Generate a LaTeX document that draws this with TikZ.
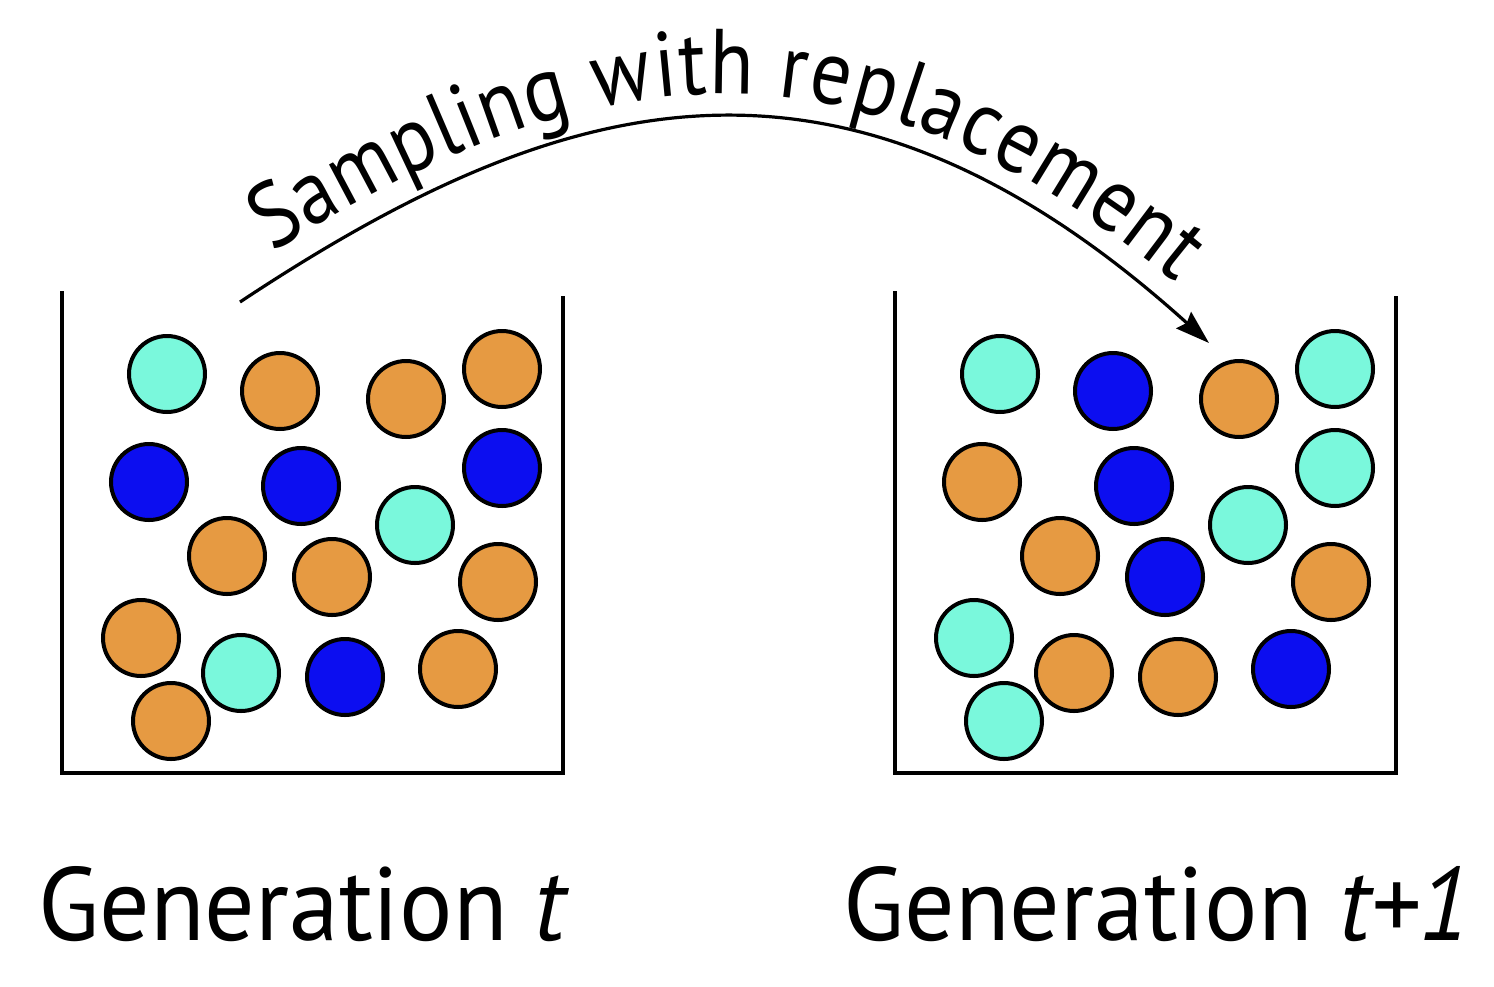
\documentclass[tikz,border=0pt]{standalone}
\usepackage{fontspec}
\setmainfont{PT Sans}
\newfontfamily\arcfont[FakeStretch=0.88]{PT Sans}
\newfontfamily\genfont[FakeStretch=0.96]{PT Sans}
\usetikzlibrary{decorations.text,arrows.meta}
\definecolor{tealc}{RGB}{122,248,220}
\definecolor{orangec}{RGB}{230,154,66}
\definecolor{bluec}{RGB}{12,14,240}
\tikzset{
  ball/.style={circle, draw=black, line width=2pt, minimum size=38pt, inner sep=0pt},
  boxline/.style={line width=1.75pt},
  sample/.style={line width=1.6pt, -{Stealth[length=17pt,width=11pt,inset=2pt]}},
  genlabel/.style={anchor=base west, inner sep=0pt, font=\genfont\fontsize{52}{52}\selectfont}
}
\begin{document}
\begin{tikzpicture}[x=0.5pt,y=-0.5pt]
\useasboundingbox (0,0) rectangle (1494,986);
% containers
\draw[boxline] (62,291) -- (62,773) -- (563,773) -- (563,296);
\draw[boxline] (895,291) -- (895,773) -- (1396,773) -- (1396,296);
% balls generation t
\foreach \i/\x/\y/\c in {1/167/374/tealc, 2/280/391/orangec, 3/406/399/orangec, 4/502/369/orangec,
  5/149/482/bluec, 6/301/486/bluec, 7/502/468/bluec, 8/415/525/tealc,
  9/227/556/orangec, 10/332/577/orangec, 11/498/582/orangec, 12/141/638/orangec,
  13/241/673/tealc, 14/345/677/bluec, 15/458/669/orangec, 16/171/721/orangec}
  \node[ball, fill=\c] (l\i) at (\x,\y) {};
% balls generation t+1
\foreach \i/\x/\y/\c in {1/167/374/tealc, 2/280/391/bluec, 3/406/399/orangec, 4/502/369/tealc,
  5/149/482/orangec, 6/301/486/bluec, 7/502/468/tealc, 8/415/525/tealc,
  9/227/556/orangec, 10/332/577/bluec, 11/498/582/orangec, 12/141/638/tealc,
  13/241/673/orangec, 14/345/677/orangec, 15/458/669/bluec, 16/171/721/tealc}
  \node[ball, fill=\c] (r\i) at (\x+833,\y) {};
% arc
\coordinate (s) at (240,302);
\coordinate (c1) at (560,90);
\coordinate (c2) at (840,10);
\coordinate (e) at (1209,343);
\draw[sample] (s) .. controls (c1) and (c2) .. (e);
\path[decorate, decoration={text along path, raise=12pt, text align={left indent=27pt},
  text={|\arcfont\fontsize{46}{46}\selectfont|Sampling with replacement}}]
  (s) .. controls (c1) and (c2) .. (e);
% labels
\node[genlabel] (gt) at (38,940) {Generation \textit{t}};
\node[genlabel] (gt1) at (843,940) {Generation \textit{t+1}};
\end{tikzpicture}
\end{document}
